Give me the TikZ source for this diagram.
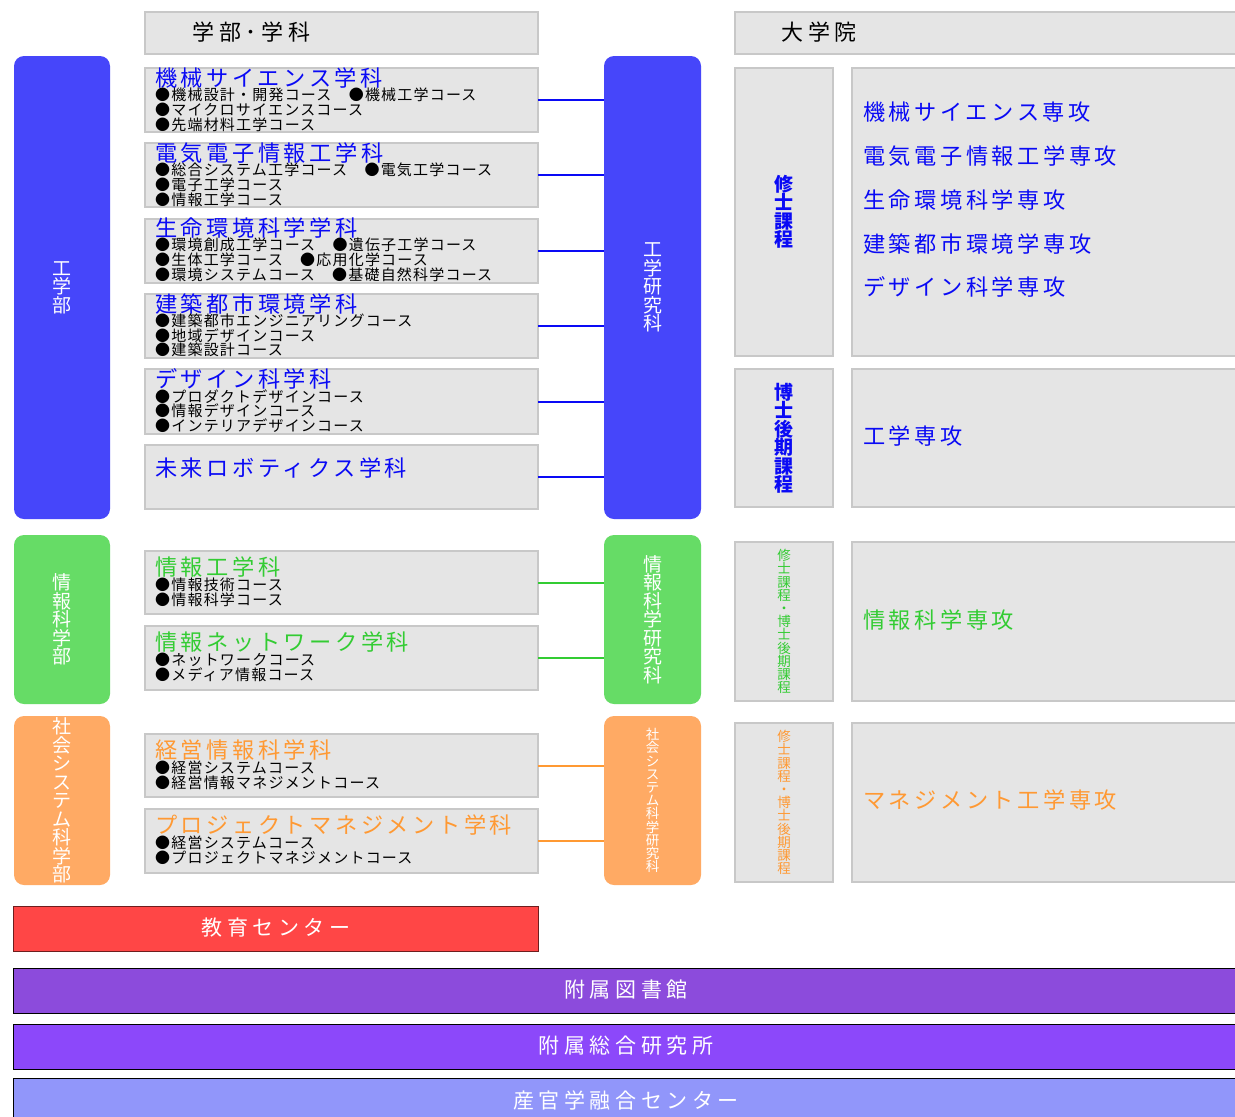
\documentclass[tikz,border=0pt]{standalone}
\usepackage{fontspec}
\setmainfont{Noto Sans CJK JP}
\newfontfamily\jpH{Noto Sans CJK JP}[LetterSpace=22]
\newfontfamily\jpA{Noto Sans CJK JP}[LetterSpace=16]
\newfontfamily\jpB{Noto Sans CJK JP}[LetterSpace=8]
\newfontfamily\jpV{Noto Sans CJK JP}
\definecolor{boxfill}{RGB}{229,229,229}
\definecolor{boxline}{RGB}{200,200,200}
\definecolor{cblue}{RGB}{70,70,250}
\definecolor{cgreen}{RGB}{102,220,102}
\definecolor{corange}{RGB}{255,170,100}
\definecolor{tblue}{RGB}{10,10,245}
\definecolor{tgreen}{RGB}{51,204,51}
\definecolor{torange}{RGB}{255,153,51}
\definecolor{cred}{RGB}{255,70,70}
\definecolor{credline}{RGB}{110,30,30}
\definecolor{cpurpleA}{RGB}{140,75,220}
\definecolor{cpurpleB}{RGB}{140,72,250}
\definecolor{cperi}{RGB}{145,150,250}
\newcommand\MyBox[6]{%
  \pgfmathsetmacro\bw{#5-#3}\pgfmathsetmacro\bh{#6-#4}%
  \node[#2, anchor=north west, inner sep=0pt, outer sep=0pt,
        minimum width=\bw pt, minimum height=\bh pt] (#1) at (#3,#4) {};}
\begin{document}
\begin{tikzpicture}[x=1pt,y=-1pt,
  gbox/.style={draw=boxline, fill=boxfill, line width=1.2pt},
  colbox/.style={rounded corners=10pt, draw=none},
  barbox/.style={draw=black, line width=1pt},
  hdr/.style={inner sep=0pt, font=\jpH\fontsize{22}{22}\selectfont, text=black},
  dtitle/.style={inner sep=0pt, anchor=west, font=\jpA\fontsize{22.2}{22.2}\selectfont},
  course/.style={inner sep=0pt, anchor=west, font=\jpB\fontsize{15}{15}\selectfont, text=black},
  major/.style={inner sep=0pt, anchor=west, font=\jpA\fontsize{22.2}{22.2}\selectfont},
  vlab/.style={inner sep=0pt, align=center, text=white, font=\jpV\fontsize{19}{18.5}\selectfont},
  vlabs/.style={inner sep=0pt, align=center, font=\jpV\fontsize{13.5}{13.2}\selectfont},
  vlabb/.style={inner sep=0pt, align=center, text=tblue, font=\jpV\bfseries\fontsize{19}{18.5}\selectfont},
  bartext/.style={inner sep=0pt, text=white, font=\jpH\fontsize{21}{21}\selectfont},
  conn/.style={line width=2pt}
]
\useasboundingbox (0,0) rectangle (1235,1117);
\fill[white] (0,0) rectangle (1235,1117);

% headers
\MyBox{h1}{gbox}{145}{12}{538}{54}
\node[hdr, anchor=west] (h1t) at (192,32) {学部･学科};
\MyBox{h2}{gbox}{735}{12}{1240}{54}
\node[hdr, anchor=west] (h2t) at (781,32) {大学院};

% engineering
\MyBox{eng}{colbox, fill=cblue}{14}{56}{110}{519}
\node[vlab] (engt) at (eng.center) {工\\学\\部};
\MyBox{engg}{colbox, fill=cblue}{604}{56}{701}{519}
\node[vlab] (enggt) at (engg.center) {工\\学\\研\\究\\科};

\MyBox{d1}{gbox}{145}{68}{538}{132}
\node[dtitle, text=tblue] (d1t) at (155,78) {機械サイエンス学科};
\node[course] (d1a) at (155,95) {●機械設計・開発コース　●機械工学コース};
\node[course] (d1b) at (155,110) {●マイクロサイエンスコース};
\node[course] (d1c) at (155,125) {●先端材料工学コース};

\MyBox{d2}{gbox}{145}{143}{538}{207}
\node[dtitle, text=tblue] (d2t) at (155,153) {電気電子情報工学科};
\node[course] (d2a) at (155,170) {●総合システム工学コース　●電気工学コース};
\node[course] (d2b) at (155,185) {●電子工学コース};
\node[course] (d2c) at (155,200) {●情報工学コース};

\MyBox{d3}{gbox}{145}{219}{538}{283}
\node[dtitle, text=tblue] (d3t) at (155,228) {生命環境科学学科};
\node[course] (d3a) at (155,245) {●環境創成工学コース　●遺伝子工学コース};
\node[course] (d3b) at (155,260) {●生体工学コース　●応用化学コース};
\node[course] (d3c) at (155,275) {●環境システムコース　●基礎自然科学コース};

\MyBox{d4}{gbox}{145}{294}{538}{358}
\node[dtitle, text=tblue] (d4t) at (155,304) {建築都市環境学科};
\node[course] (d4a) at (155,321) {●建築都市エンジニアリングコース};
\node[course] (d4b) at (155,336) {●地域デザインコース};
\node[course] (d4c) at (155,350) {●建築設計コース};

\MyBox{d5}{gbox}{145}{369}{538}{434}
\node[dtitle, text=tblue] (d5t) at (155,379) {デザイン科学科};
\node[course] (d5a) at (155,397) {●プロダクトデザインコース};
\node[course] (d5b) at (155,411) {●情報デザインコース};
\node[course] (d5c) at (155,426) {●インテリアデザインコース};

\MyBox{d6}{gbox}{145}{445}{538}{509}
\node[dtitle, text=tblue] (d6t) at (155,468) {未来ロボティクス学科};

\foreach \d in {d1,d2,d3,d4,d5,d6}
  \draw[conn, draw=tblue] (\d.east) -- (\d.east -| engg.west);

\MyBox{ms}{gbox}{735}{68}{833}{356}
\node[vlabb] (mst) at (ms.center) {修\\士\\課\\程};
\MyBox{msm}{gbox}{852}{68}{1240}{356}
\node[major, text=tblue] (m1) at (863,112) {機械サイエンス専攻};
\node[major, text=tblue] (m2) at (863,156) {電気電子情報工学専攻};
\node[major, text=tblue] (m3) at (863,200) {生命環境科学専攻};
\node[major, text=tblue] (m4) at (863,244) {建築都市環境学専攻};
\node[major, text=tblue] (m5) at (863,287) {デザイン科学専攻};

\MyBox{dc}{gbox}{735}{369}{833}{507}
\node[vlabb] (dct) at (dc.center) {博\\士\\後\\期\\課\\程};
\MyBox{dcm}{gbox}{852}{369}{1240}{507}
\node[major, text=tblue] (m6) at (863,436) {工学専攻};

% information
\MyBox{inf}{colbox, fill=cgreen}{14}{535}{110}{704}
\node[vlab] (inft) at (inf.center) {情\\報\\科\\学\\部};
\MyBox{infg}{colbox, fill=cgreen}{604}{535}{701}{704}
\node[vlab] (infgt) at (infg.center) {情\\報\\科\\学\\研\\究\\科};

\MyBox{d7}{gbox}{145}{551}{538}{614}
\node[dtitle, text=tgreen] (d7t) at (155,567) {情報工学科};
\node[course] (d7a) at (155,585) {●情報技術コース};
\node[course] (d7b) at (155,600) {●情報科学コース};

\MyBox{d8}{gbox}{145}{626}{538}{690}
\node[dtitle, text=tgreen] (d8t) at (155,642) {情報ネットワーク学科};
\node[course] (d8a) at (155,660) {●ネットワークコース};
\node[course] (d8b) at (155,675) {●メディア情報コース};

\foreach \d in {d7,d8}
  \draw[conn, draw=tgreen] (\d.east) -- (\d.east -| infg.west);

\MyBox{ig}{gbox}{735}{542}{833}{701}
\node[vlabs, text=tgreen] (igt) at (ig.center) {修\\士\\課\\程\\・\\博\\士\\後\\期\\課\\程};
\MyBox{igm}{gbox}{852}{542}{1240}{701}
\node[major, text=tgreen] (m7) at (863,620) {情報科学専攻};

% social systems
\MyBox{soc}{colbox, fill=corange}{14}{716}{110}{885}
\node[vlab] (soct) at (soc.center) {社\\会\\シ\\ス\\テ\\ム\\科\\学\\部};
\MyBox{socg}{colbox, fill=corange}{604}{716}{701}{885}
\node[vlabs, text=white] (socgt) at (socg.center) {社\\会\\シ\\ス\\テ\\ム\\科\\学\\研\\究\\科};

\MyBox{d9}{gbox}{145}{734}{538}{797}
\node[dtitle, text=torange] (d9t) at (155,750) {経営情報科学科};
\node[course] (d9a) at (155,768) {●経営システムコース};
\node[course] (d9b) at (155,783) {●経営情報マネジメントコース};

\MyBox{d10}{gbox}{145}{809}{538}{873}
\node[dtitle, text=torange] (d10t) at (155,825) {プロジェクトマネジメント学科};
\node[course] (d10a) at (155,843) {●経営システムコース};
\node[course] (d10b) at (155,858) {●プロジェクトマネジメントコース};

\foreach \d in {d9,d10}
  \draw[conn, draw=torange] (\d.east) -- (\d.east -| socg.west);

\MyBox{sg}{gbox}{735}{723}{833}{882}
\node[vlabs, text=torange] (sgt) at (sg.center) {修\\士\\課\\程\\・\\博\\士\\後\\期\\課\\程};
\MyBox{sgm}{gbox}{852}{723}{1240}{882}
\node[major, text=torange] (m8) at (863,800) {マネジメント工学専攻};

% bottom bars
\MyBox{edu}{barbox, fill=cred, draw=credline}{13}{906}{538}{951}
\node[bartext] (edut) at (276,928) {教育センター};
\MyBox{lib}{barbox, fill=cpurpleA}{13}{968}{1240}{1013}
\node[bartext] (libt) at (626,990) {附属図書館};
\MyBox{ri}{barbox, fill=cpurpleB}{13}{1024}{1240}{1069}
\node[bartext] (rit) at (626,1046) {附属総合研究所};
\MyBox{ic}{barbox, fill=cperi}{13}{1078}{1240}{1130}
\node[bartext] (ict) at (626,1100) {産官学融合センター};
\end{tikzpicture}
\end{document}
